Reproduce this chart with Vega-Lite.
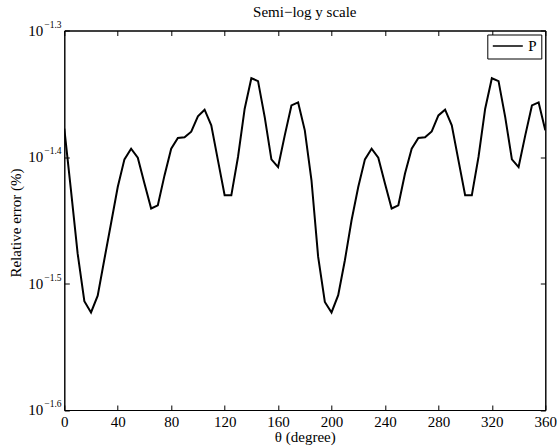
{
  "$schema": "https://vega.github.io/schema/vega-lite/v6.json",
  "width": 481,
  "height": 379.5,
  "autosize": {"type": "none"},
  "padding": {"left": 64.3, "top": 30.5, "right": 11.7, "bottom": 38},
  "background": "white",
  "title": {"text": "Semi−log y scale", "font": "Liberation Serif", "fontSize": 15, "fontWeight": "normal", "color": "black", "baseline": "alphabetic", "offset": 3, "dy": 15, "anchor": "middle", "frame": "group"},
  "config": {
    "view": {"stroke": "black", "strokeWidth": 1},
    "axis": {"grid": false, "domainColor": "black", "tickColor": "black", "labelColor": "black", "titleColor": "black", "labelFont": "Liberation Serif", "titleFont": "Liberation Serif", "labelFontSize": 15, "titleFontSize": 15, "titleFontWeight": "normal", "tickSize": -5, "labelFlush": false, "labelOverlap": false},
    "legend": {"orient": "top-right", "offset": 4, "strokeColor": "black", "fillColor": "white", "padding": 4, "cornerRadius": 0, "labelFont": "Liberation Serif", "labelFontSize": 15, "labelColor": "black", "symbolType": "M-1.2,0H4.8", "symbolSize": 100, "symbolStrokeWidth": 1.5, "labelOffset": 22, "title": null}
  },
  "datasets": {
    "err": [
      {"theta": 0, "err": 0.04192}, {"theta": 5, "err": 0.03747}, {"theta": 10, "err": 0.03339}, {"theta": 15, "err": 0.03062},
      {"theta": 20, "err": 0.03000}, {"theta": 25, "err": 0.03093}, {"theta": 30, "err": 0.03305}, {"theta": 35, "err": 0.03529},
      {"theta": 40, "err": 0.03769}, {"theta": 45, "err": 0.03964}, {"theta": 50, "err": 0.04042}, {"theta": 55, "err": 0.03976},
      {"theta": 60, "err": 0.03793}, {"theta": 65, "err": 0.03625}, {"theta": 70, "err": 0.03646}, {"theta": 75, "err": 0.03850},
      {"theta": 80, "err": 0.04042}, {"theta": 85, "err": 0.04121}, {"theta": 90, "err": 0.04126}, {"theta": 95, "err": 0.04169},
      {"theta": 100, "err": 0.04287}, {"theta": 105, "err": 0.04339}, {"theta": 110, "err": 0.04217}, {"theta": 115, "err": 0.03957},
      {"theta": 120, "err": 0.03713}, {"theta": 125, "err": 0.03713}, {"theta": 130, "err": 0.03981}, {"theta": 135, "err": 0.04347},
      {"theta": 140, "err": 0.04595}, {"theta": 145, "err": 0.04571}, {"theta": 150, "err": 0.04281}, {"theta": 155, "err": 0.03964},
      {"theta": 160, "err": 0.03909}, {"theta": 165, "err": 0.04141}, {"theta": 170, "err": 0.04373}, {"theta": 175, "err": 0.04397},
      {"theta": 180, "err": 0.04179}, {"theta": 185, "err": 0.03816}, {"theta": 190, "err": 0.03319}, {"theta": 195, "err": 0.03058},
      {"theta": 200, "err": 0.03000}, {"theta": 205, "err": 0.03096}, {"theta": 210, "err": 0.03299}, {"theta": 215, "err": 0.03548},
      {"theta": 220, "err": 0.03769}, {"theta": 225, "err": 0.03964}, {"theta": 230, "err": 0.04042}, {"theta": 235, "err": 0.03976},
      {"theta": 240, "err": 0.03793}, {"theta": 245, "err": 0.03625}, {"theta": 250, "err": 0.03646}, {"theta": 255, "err": 0.03863},
      {"theta": 260, "err": 0.04042}, {"theta": 265, "err": 0.04121}, {"theta": 270, "err": 0.04126}, {"theta": 275, "err": 0.04171},
      {"theta": 280, "err": 0.04294}, {"theta": 285, "err": 0.04339}, {"theta": 290, "err": 0.04217}, {"theta": 295, "err": 0.03957},
      {"theta": 300, "err": 0.03713}, {"theta": 305, "err": 0.03713}, {"theta": 310, "err": 0.03981}, {"theta": 315, "err": 0.04347},
      {"theta": 320, "err": 0.04595}, {"theta": 325, "err": 0.04571}, {"theta": 330, "err": 0.04281}, {"theta": 335, "err": 0.03964},
      {"theta": 340, "err": 0.03909}, {"theta": 345, "err": 0.04141}, {"theta": 350, "err": 0.04373}, {"theta": 355, "err": 0.04397},
      {"theta": 360, "err": 0.04179}
    ],
    "yt": [
      {"v": 0.0251189, "e": "−1.6", "b": "10"},
      {"v": 0.0316228, "e": "−1.5", "b": "10"},
      {"v": 0.0398107, "e": "−1.4", "b": "10"},
      {"v": 0.0501187, "e": "−1.3", "b": "10"}
    ]
  },
  "layer": [
    {
      "data": {"name": "err"},
      "mark": {"type": "line", "strokeWidth": 2, "clip": true},
      "encoding": {
        "x": {"field": "theta", "type": "quantitative", "scale": {"domain": [0, 360], "nice": false, "zero": false},
          "axis": {"orient": "bottom", "values": [0, 40, 80, 120, 160, 200, 240, 280, 320, 360], "labelPadding": 21.5, "labelBaseline": "alphabetic", "title": "θ (degree)", "titleBaseline": "alphabetic", "titleY": 31.5, "titleX": 240.5}},
        "y": {"field": "err", "type": "quantitative", "scale": {"type": "log", "domain": [0.0251189, 0.0501187], "nice": false, "zero": false},
          "axis": {"orient": "left", "values": [0.0251189, 0.0316228, 0.0398107, 0.0501187], "labels": false, "title": "Relative error (%)", "titleBaseline": "alphabetic", "titleAngle": -90, "titleX": -44.3, "titleY": 192}},
        "color": {"datum": "P", "type": "nominal", "scale": {"range": ["black"]}, "legend": {}}
      }
    },
    {
      "data": {"name": "err"},
      "mark": {"type": "line", "strokeOpacity": 0},
      "encoding": {
        "x": {"field": "theta", "type": "quantitative", "axis": {"orient": "top", "values": [0, 40, 80, 120, 160, 200, 240, 280, 320, 360], "labels": false, "title": null}},
        "y": {"field": "err", "type": "quantitative", "axis": {"orient": "right", "values": [0.0251189, 0.0316228, 0.0398107, 0.0501187], "labels": false, "title": null}}
      }
    },
    {
      "data": {"name": "yt"},
      "mark": {"type": "text", "align": "right", "baseline": "middle", "dx": -21, "font": "Liberation Serif", "fontSize": 15, "color": "black"},
      "encoding": {
        "x": {"datum": 0, "type": "quantitative", "axis": null},
        "y": {"field": "v", "type": "quantitative", "axis": null},
        "text": {"field": "b"}
      }
    },
    {
      "data": {"name": "yt"},
      "mark": {"type": "text", "align": "left", "baseline": "middle", "dx": -20, "dy": -6, "font": "Liberation Serif", "fontSize": 9.5, "color": "black"},
      "encoding": {
        "x": {"datum": 0, "type": "quantitative", "axis": null},
        "y": {"field": "v", "type": "quantitative", "axis": null},
        "text": {"field": "e"}
      }
    }
  ],
  "resolve": {"axis": {"x": "independent", "y": "independent"}}
}
